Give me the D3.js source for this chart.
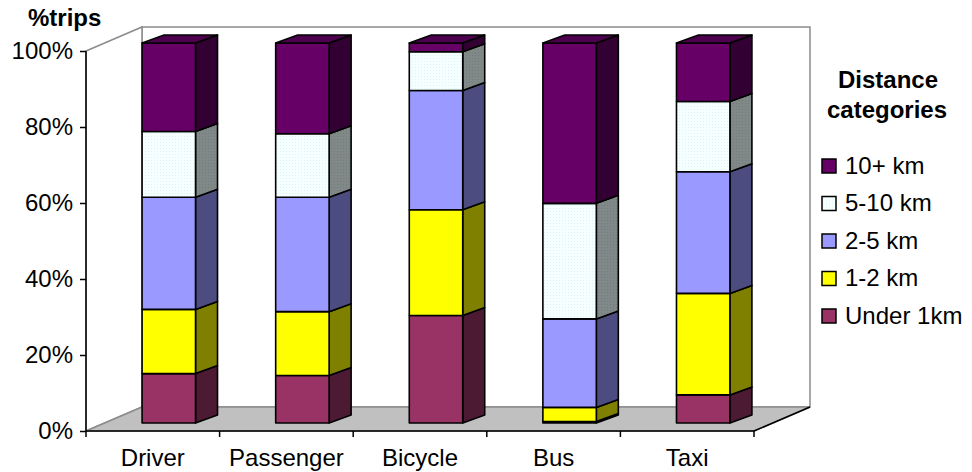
<!DOCTYPE html>
<html>
<head>
<meta charset="utf-8">
<script src="https://cdn.jsdelivr.net/npm/d3@7"></script>
<style>
  html, body { margin: 0; padding: 0; background: #fff; }
  svg { display: block; font-family: "Liberation Sans", Arial, sans-serif; }
</style>
</head>
<body>
<svg id="chart" width="972" height="472"></svg>
<script>
// Share of trips by distance band for each travel mode (percent)
const categories = ["Driver", "Passenger", "Bicycle", "Bus", "Taxi"];
const seriesNames = ["Under 1km", "1-2 km", "2-5 km", "5-10 km", "10+ km"];
const under1km = [13.0, 12.5, 28.3, 0.4, 7.4];
const km1to2   = [16.9, 16.8, 27.8, 3.7, 26.7];
const km2to5   = [29.5, 30.1, 31.4, 23.3, 32.0];
const km5to10  = [17.3, 16.7, 10.2, 30.4, 18.5];
const km10plus = [23.3, 23.9, 2.3, 42.2, 15.4];
const yTicks = [0, 0.2, 0.4, 0.6, 0.8, 1.0];

// face colours per series: front, side, top
const palette = {
  "Under 1km": { front: "#993366", side: "#4d1a33", top: "#7a2952" },
  "1-2 km":    { front: "#ffff00", side: "#808000", top: "#cccc00" },
  "2-5 km":    { front: "#9999ff", side: "#4c4c80", top: "#7a7acc" },
  "5-10 km":   { front: "url(#dotsLight)", side: "url(#dotsGrey)", top: "#c0cccc" },
  "10+ km":    { front: "#660066", side: "#330033", top: "#4d004d" }
};

const seriesValues = [under1km, km1to2, km2to5, km5to10, km10plus];
const rows = categories.map((c, i) => {
  const r = { category: c };
  seriesNames.forEach((s, j) => r[s] = seriesValues[j][i]);
  return r;
});
const stacked = d3.stack().keys(seriesNames).offset(d3.stackOffsetExpand)(rows);

const FONT = 24;
const svg = d3.select("#chart");

// fine dotted fills for the 5-10 km band
const defs = svg.append("defs");
const p1 = defs.append("pattern").attr("id", "dotsLight").attr("patternUnits", "userSpaceOnUse")
  .attr("width", 3).attr("height", 3);
p1.append("rect").attr("width", 3).attr("height", 3).attr("fill", "#f6ffff");
p1.append("rect").attr("x", 1).attr("y", 1).attr("width", 1).attr("height", 1).attr("fill", "#dcf4f8");
const p2 = defs.append("pattern").attr("id", "dotsGrey").attr("patternUnits", "userSpaceOnUse")
  .attr("width", 3).attr("height", 3);
p2.append("rect").attr("width", 3).attr("height", 3).attr("fill", "#808888");
p2.append("rect").attr("x", 1).attr("y", 1).attr("width", 1).attr("height", 1).attr("fill", "#717d7d");

// front plane scales
const x = d3.scaleBand().domain(categories).range([86, 754]).paddingInner(0).paddingOuter(0);
const y = d3.scaleLinear().domain([0, 1]).range([431, 51]);

// oblique depth offsets
const wall = { dx: 56, dy: -24 };       // full depth of the plot box
const barFront = { dx: 16, dy: -8 };    // bar front face behind front plane
const barDepth = { dx: 22, dy: -8 };    // bar thickness
const barW = x.bandwidth() * 0.4;

const pts = a => a.map(p => p.join(",")).join(" ");
const x0 = x.range()[0], x1 = x.range()[1];
const yb = y(0), yt = y(1);

// walls and floor
const box = svg.append("g");
box.append("polygon")
  .attr("points", pts([[x0 + wall.dx, yt + wall.dy], [x1 + wall.dx, yt + wall.dy], [x1 + wall.dx, yb + wall.dy], [x0 + wall.dx, yb + wall.dy]]))
  .attr("fill", "#fff").attr("stroke", "#8c8c8c").attr("stroke-width", 1.5);
box.append("polygon")
  .attr("points", pts([[x0, yt], [x0 + wall.dx, yt + wall.dy], [x0 + wall.dx, yb + wall.dy], [x0, yb]]))
  .attr("fill", "#fff").attr("stroke", "#8c8c8c").attr("stroke-width", 1.5);
box.append("polygon")
  .attr("points", pts([[x0, yb], [x0 + wall.dx, yb + wall.dy], [x1 + wall.dx, yb + wall.dy], [x1, yb]]))
  .attr("fill", "#c0c0c0").attr("stroke", "#8c8c8c").attr("stroke-width", 1.5);
box.append("line")
  .attr("x1", x1).attr("y1", yb).attr("x2", x1 + wall.dx).attr("y2", yb + wall.dy)
  .attr("stroke", "#000").attr("stroke-width", 1.5);

// bars
const bars = svg.append("g").attr("stroke", "#000").attr("stroke-width", 1.6).attr("stroke-linejoin", "round");
stacked.forEach((layer, li) => {
  const col = palette[layer.key];
  layer.forEach((d, ci) => {
    const cat = categories[ci];
    const left = x(cat) + (x.bandwidth() - barW) / 2 + barFront.dx;
    const right = left + barW;
    const yLo = y(d[0]) + barFront.dy;
    const yHi = y(d[1]) + barFront.dy;
    const g = bars.append("g");
    // side face
    g.append("polygon")
      .attr("points", pts([[right, yHi], [right + barDepth.dx, yHi + barDepth.dy], [right + barDepth.dx, yLo + barDepth.dy], [right, yLo]]))
      .attr("fill", col.side);
    // front face
    g.append("rect")
      .attr("x", left).attr("y", yHi).attr("width", barW).attr("height", Math.max(0, yLo - yHi))
      .attr("fill", col.front);
    // top face on the uppermost segment
    if (li === stacked.length - 1) {
      g.append("polygon")
        .attr("points", pts([[left, yHi], [left + barDepth.dx, yHi + barDepth.dy], [right + barDepth.dx, yHi + barDepth.dy], [right, yHi]]))
        .attr("fill", col.top);
    }
  });
});

// y axis
const yAxis = d3.axisLeft(y).tickValues(yTicks).tickFormat(d3.format(".0%")).tickSize(6).tickPadding(7);
const yg = svg.append("g").attr("transform", `translate(${x0},0)`).call(yAxis);
yg.select(".domain").attr("d", `M0,${yt}V${yb}`).attr("stroke", "#000").attr("stroke-width", 1.5);
yg.selectAll(".tick line").attr("stroke", "#000").attr("stroke-width", 1.5);
yg.selectAll(".tick text").attr("font-size", FONT).attr("fill", "#000")
  .attr("font-family", "'Liberation Sans', Arial, sans-serif");

// x axis
const xAxis = d3.axisBottom(x).tickSize(0).tickPadding(18);
const xg = svg.append("g").attr("transform", `translate(0,${yb})`).call(xAxis);
xg.select(".domain").attr("d", `M${x0},0H${x1}`).attr("stroke", "#000").attr("stroke-width", 1.5);
xg.selectAll(".tick text").attr("font-size", FONT).attr("fill", "#000")
  .attr("font-family", "'Liberation Sans', Arial, sans-serif");
const bounds = categories.map(c => x(c)).concat([x1]);
xg.selectAll(".bound").data(bounds).enter().append("line")
  .attr("x1", d => d).attr("x2", d => d).attr("y1", 0).attr("y2", 6)
  .attr("stroke", "#000").attr("stroke-width", 1.5);

// axis title
svg.append("text").attr("x", 28).attr("y", 26).attr("font-size", FONT).attr("font-weight", "bold")
  .attr("fill", "#000").text("%trips");

// legend
const lg = svg.append("g");
lg.append("text").attr("x", 888).attr("y", 88).attr("text-anchor", "middle")
  .attr("font-size", FONT).attr("font-weight", "bold").text("Distance");
lg.append("text").attr("x", 887).attr("y", 118).attr("text-anchor", "middle")
  .attr("font-size", FONT).attr("font-weight", "bold").text("categories");
const legendOrder = seriesNames.slice().reverse();
const item = lg.selectAll(".item").data(legendOrder).enter().append("g")
  .attr("transform", (d, i) => `translate(822,${159 + i * 37.5})`);
item.append("rect").attr("width", 14).attr("height", 14)
  .attr("fill", d => palette[d].front).attr("stroke", "#000").attr("stroke-width", 1.5);
item.append("text").attr("x", 23).attr("y", 14.5).attr("font-size", FONT).attr("fill", "#000").text(d => d);
</script>
</body>
</html>
